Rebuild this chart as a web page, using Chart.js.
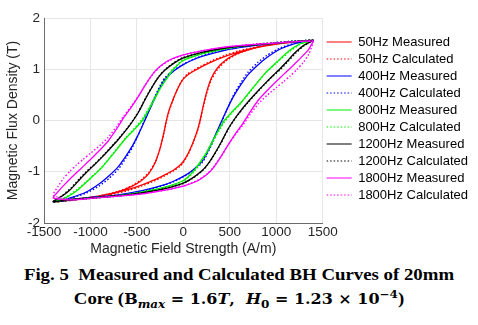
<!DOCTYPE html>
<html lang="en">
<head>
    <meta charset="UTF-8">
    <title>Measured and Calculated BH Curves</title>
    <style>
        body {
            margin: 0;
            background: #fff;
            width: 478px;
            height: 325px;
            position: relative;
            overflow: hidden;
        }
        #chart-box {
            position: absolute;
            left: 0;
            top: 0;
            width: 478px;
            height: 258px;
        }
        #caption {
            position: absolute;
            left: 0;
            top: 263px;
            width: 478px;
            text-align: center;
            font-family: "Liberation Serif", "Times New Roman", serif;
            font-weight: bold;
            font-size: 16.5px;
            line-height: 24px;
            color: #000;
            transform: scaleX(1.14);
            transform-origin: 50% 0;
        }
        #caption .math {
            font-family: "DejaVu Serif", serif;
            font-size: 14px;
        }
        #caption sub, #caption sup {
            font-size: 10.5px;
            line-height: 0;
        }
    </style>
</head>
<body>
    <div id="chart-box">
        <canvas id="bh-chart" width="478" height="258"></canvas>
    </div>
    <div id="caption">
        Fig. 5&nbsp; Measured and Calculated BH Curves of 20mm<br>
        Core (<span class="math">B<sub><i>max</i></sub> = 1.6<i>T</i>,&nbsp; <i>H</i><sub>0</sub> = 1.23 × 10<sup>−4</sup></span>)
    </div>

    <script src="https://cdn.jsdelivr.net/npm/chart.js"></script>
    <script>
        // axis ticks
        const xTicks = [-1500, -1000, -500, 0, 500, 1000, 1500];
        const yTicks = [-2, -1, 0, 1, 2];

        // 50Hz loop: descending branch then ascending branch (A/m)
        const h50 = [1400, 1200, 1000, 800, 600, 450, 300, 200, 100, 40, 0, -50, -100, -150, -180, -210, -250, -300, -370, -450, -550, -700, -900, -1100, -1300, -1400,
            -1200, -1000, -800, -600, -450, -300, -200, -100, -40, 0, 50, 100, 150, 180, 210, 250, 300, 370, 450, 550, 700, 900, 1100, 1300, 1400];
        const b50Meas = [1.56, 1.53, 1.49, 1.43, 1.34, 1.25, 1.14, 1.05, 0.95, 0.88, 0.81, 0.66, 0.46, 0.22, 0.02, -0.24, -0.54, -0.81, -1.03, -1.17, -1.28, -1.39, -1.47, -1.52, -1.56, -1.58,
            -1.55, -1.50, -1.44, -1.35, -1.26, -1.15, -1.06, -0.96, -0.88, -0.80, -0.65, -0.45, -0.20, 0.00, 0.25, 0.55, 0.82, 1.03, 1.17, 1.28, 1.38, 1.46, 1.51, 1.54, 1.56];
        const b50Calc = [1.57, 1.54, 1.50, 1.44, 1.36, 1.27, 1.16, 1.07, 0.97, 0.90, 0.82, 0.67, 0.45, 0.20, 0.00, -0.26, -0.55, -0.80, -1.01, -1.15, -1.27, -1.38, -1.47, -1.53, -1.57, -1.59,
            -1.56, -1.51, -1.45, -1.37, -1.28, -1.17, -1.08, -0.98, -0.90, -0.82, -0.67, -0.46, -0.22, -0.02, 0.22, 0.52, 0.79, 1.00, 1.15, 1.27, 1.38, 1.47, 1.52, 1.55, 1.57];

        // 400Hz loop
        const h400 = [1400, 1200, 1000, 800, 600, 400, 200, 100, 0, -100, -200, -250, -300, -350, -400, -450, -500, -550, -620, -700, -800, -900, -1050, -1200, -1300, -1400,
            -1200, -1000, -800, -600, -400, -200, -100, 0, 100, 200, 250, 300, 350, 400, 450, 500, 550, 620, 700, 800, 900, 1050, 1200, 1300, 1400];
        const b400Meas = [1.56, 1.54, 1.51, 1.47, 1.42, 1.35, 1.25, 1.18, 1.09, 0.97, 0.80, 0.65, 0.46, 0.26, 0.06, -0.14, -0.33, -0.50, -0.70, -0.90, -1.08, -1.23, -1.40, -1.50, -1.55, -1.58,
            -1.54, -1.50, -1.47, -1.42, -1.35, -1.25, -1.18, -1.09, -0.97, -0.80, -0.65, -0.46, -0.26, -0.06, 0.14, 0.33, 0.50, 0.70, 0.90, 1.08, 1.23, 1.40, 1.50, 1.54, 1.56];
        const b400Calc = [1.57, 1.55, 1.52, 1.48, 1.43, 1.36, 1.26, 1.19, 1.10, 0.99, 0.83, 0.68, 0.49, 0.28, 0.08, -0.13, -0.34, -0.53, -0.74, -0.95, -1.13, -1.27, -1.42, -1.51, -1.56, -1.59,
            -1.55, -1.51, -1.48, -1.43, -1.36, -1.26, -1.19, -1.10, -0.99, -0.83, -0.68, -0.49, -0.28, -0.08, 0.13, 0.34, 0.53, 0.74, 0.95, 1.13, 1.27, 1.42, 1.51, 1.55, 1.57];

        // 800Hz loop
        const h800 = [1400, 1200, 1000, 800, 600, 400, 200, 0, -110, -184, -250, -294, -360, -441, -530, -626, -750, -883, -1000, -1133, -1250, -1330, -1400,
            -1200, -1000, -800, -600, -400, -200, 0, 110, 184, 250, 294, 360, 441, 530, 626, 750, 883, 1000, 1133, 1250, 1330, 1400];
        const b800Meas = [1.56, 1.54, 1.51, 1.48, 1.44, 1.38, 1.30, 1.17, 0.99, 0.80, 0.62, 0.47, 0.25, 0.00, -0.18, -0.36, -0.64, -0.93, -1.13, -1.35, -1.49, -1.55, -1.58,
            -1.54, -1.51, -1.48, -1.44, -1.38, -1.30, -1.17, -0.99, -0.80, -0.62, -0.47, -0.25, 0.00, 0.18, 0.36, 0.64, 0.93, 1.13, 1.35, 1.49, 1.53, 1.56];
        const b800Calc = [1.57, 1.55, 1.52, 1.49, 1.45, 1.39, 1.31, 1.19, 1.01, 0.83, 0.65, 0.50, 0.28, 0.03, -0.16, -0.35, -0.63, -0.92, -1.12, -1.33, -1.48, -1.55, -1.59,
            -1.55, -1.52, -1.49, -1.45, -1.39, -1.31, -1.19, -1.01, -0.83, -0.65, -0.50, -0.28, -0.03, 0.16, 0.35, 0.63, 0.92, 1.12, 1.33, 1.48, 1.54, 1.57];

        // 1200Hz loop
        const h1200 = [1400, 1200, 1000, 800, 600, 400, 200, 0, -100, -200, -260, -320, -400, -480, -540, -600, -700, -800, -883, -960, -1041, -1120, -1207, -1300, -1400,
            -1200, -1000, -800, -600, -400, -200, 0, 100, 200, 260, 320, 400, 480, 540, 600, 700, 800, 883, 960, 1041, 1120, 1207, 1300, 1400];
        const b1200Meas = [1.56, 1.54, 1.51, 1.48, 1.45, 1.40, 1.33, 1.22, 1.12, 0.98, 0.86, 0.70, 0.45, 0.17, 0.00, -0.15, -0.37, -0.57, -0.73, -0.87, -1.01, -1.16, -1.33, -1.47, -1.58,
            -1.54, -1.51, -1.48, -1.45, -1.40, -1.33, -1.22, -1.12, -0.98, -0.86, -0.70, -0.45, -0.17, 0.00, 0.15, 0.37, 0.57, 0.73, 0.87, 1.01, 1.16, 1.33, 1.47, 1.56];
        const b1200Calc = [1.57, 1.55, 1.52, 1.49, 1.45, 1.40, 1.33, 1.23, 1.13, 0.99, 0.87, 0.71, 0.46, 0.18, 0.01, -0.14, -0.36, -0.56, -0.72, -0.86, -0.99, -1.14, -1.31, -1.46, -1.59,
            -1.55, -1.52, -1.49, -1.45, -1.40, -1.33, -1.23, -1.13, -0.99, -0.87, -0.71, -0.46, -0.18, -0.01, 0.14, 0.36, 0.56, 0.72, 0.86, 0.99, 1.14, 1.31, 1.46, 1.57];

        // 1800Hz loop
        const h1800 = [1400, 1200, 1000, 800, 600, 400, 200, 0, -150, -250, -320, -400, -480, -560, -640, -720, -809, -900, -1000, -1080, -1151, -1220, -1290, -1350, -1400,
            -1200, -1000, -800, -600, -400, -200, 0, 150, 250, 320, 400, 480, 560, 640, 720, 809, 900, 1000, 1080, 1151, 1220, 1290, 1350, 1400];
        const b1800Meas = [1.55, 1.54, 1.51, 1.49, 1.46, 1.42, 1.36, 1.28, 1.18, 1.06, 0.93, 0.72, 0.48, 0.26, 0.06, -0.17, -0.40, -0.58, -0.76, -0.90, -1.02, -1.14, -1.27, -1.39, -1.51,
            -1.55, -1.52, -1.49, -1.46, -1.42, -1.36, -1.28, -1.18, -1.06, -0.93, -0.72, -0.48, -0.26, -0.06, 0.17, 0.40, 0.58, 0.76, 0.90, 1.02, 1.14, 1.27, 1.39, 1.55];
        const b1800Calc = [1.56, 1.54, 1.52, 1.49, 1.46, 1.42, 1.36, 1.28, 1.17, 1.05, 0.92, 0.72, 0.49, 0.28, 0.09, -0.12, -0.33, -0.49, -0.64, -0.76, -0.87, -0.99, -1.13, -1.29, -1.46,
            -1.54, -1.52, -1.49, -1.46, -1.42, -1.36, -1.28, -1.17, -1.05, -0.92, -0.72, -0.49, -0.28, -0.09, 0.12, 0.33, 0.49, 0.64, 0.76, 0.87, 0.99, 1.13, 1.29, 1.53];

        const seriesLabels = ['50Hz Measured', '50Hz Calculated', '400Hz Measured', '400Hz Calculated', '800Hz Measured',
            '800Hz Calculated', '1200Hz Measured', '1200Hz Calculated', '1800Hz Measured', '1800Hz Calculated'];
        const seriesColors = ['#ff0000', '#ff0000', '#0000ff', '#0000ff', '#00f000', '#00f000', '#000000', '#000000', '#ff00ff', '#ff00ff'];
        const seriesH = [h50, h50, h400, h400, h800, h800, h1200, h1200, h1800, h1800];
        const seriesB = [b50Meas, b50Calc, b400Meas, b400Calc, b800Meas, b800Calc, b1200Meas, b1200Calc, b1800Meas, b1800Calc];

        function toPoints(h, b) {
            return h.map((x, i) => ({ x: x, y: b[i] }));
        }

        const datasets = seriesLabels.map((label, i) => {
            const calculated = i % 2 === 1;
            return {
                label: label,
                data: toPoints(seriesH[i], seriesB[i]),
                borderColor: seriesColors[i],
                backgroundColor: seriesColors[i],
                borderWidth: calculated ? 1.4 : 1.3,
                borderDash: calculated ? [1.5, 2] : [],
                showLine: true,
                pointRadius: 0,
                tension: 0.2,
                fill: false,
                order: seriesLabels.length - i
            };
        });

        const textColor = '#262626';
        const font = 'Liberation Sans, Arial, sans-serif';

        // legend samples: keep the dataset's dash, plain thin line
        function legendLabels(chart) {
            const items = Chart.defaults.plugins.legend.labels.generateLabels(chart);
            return items.map(item => {
                const ds = chart.data.datasets[item.datasetIndex];
                item.lineDash = ds.borderDash;
                item.lineWidth = 1.2;
                item.strokeStyle = ds.borderColor;
                return item;
            });
        }

        new Chart(document.getElementById('bh-chart'), {
            type: 'scatter',
            data: { datasets: datasets },
            options: {
                responsive: false,
                animation: false,
                devicePixelRatio: 1,
                layout: { padding: { left: 0, top: 18, right: 0, bottom: 0 } },
                plugins: {
                    tooltip: { enabled: false },
                    legend: {
                        position: 'right',
                        align: 'start',
                        maxWidth: 163,
                        title: { display: true, text: '', font: { size: 1 }, padding: { top: 12.3, bottom: 0 } },
                        labels: {
                            usePointStyle: true,
                            pointStyle: 'line',
                            pointStyleWidth: 25,
                            padding: 4,
                            color: '#000',
                            font: { family: font, size: 13 },
                            generateLabels: legendLabels,
                            sort: (a, b) => a.datasetIndex - b.datasetIndex
                        }
                    }
                },
                scales: {
                    x: {
                        type: 'linear',
                        min: -1500,
                        max: 1500,
                        afterBuildTicks: scale => { scale.ticks = xTicks.map(v => ({ value: v })); },
                        afterFit: scale => { scale.height = 35; scale.paddingRight = 10; },
                        grid: { color: '#e6e6e6', drawTicks: false },
                        border: { color: '#6b6b6b' },
                        ticks: {
                            padding: 1,
                            color: textColor,
                            font: { family: font, size: 13.5 },
                            maxRotation: 0,
                            callback: v => String(v)
                        },
                        title: {
                            display: true,
                            text: 'Magnetic Field Strength (A/m)',
                            color: textColor,
                            font: { family: font, size: 14 },
                            padding: { top: 0, bottom: 0 }
                        }
                    },
                    y: {
                        type: 'linear',
                        min: -2,
                        max: 2,
                        afterBuildTicks: scale => { scale.ticks = yTicks.map(v => ({ value: v })); },
                        afterFit: scale => { scale.width = 44; scale.paddingTop = 0; scale.paddingBottom = 0; },
                        grid: { color: '#e6e6e6', drawTicks: false },
                        border: { color: '#6b6b6b' },
                        ticks: {
                            padding: 4,
                            color: textColor,
                            font: { family: font, size: 13.5 },
                            callback: v => String(v)
                        },
                        title: {
                            display: true,
                            text: 'Magnetic Flux Density (T)',
                            color: textColor,
                            font: { family: font, size: 14 },
                            padding: { top: 5, bottom: 0 }
                        }
                    }
                }
            }
        });
    </script>
</body>
</html>
